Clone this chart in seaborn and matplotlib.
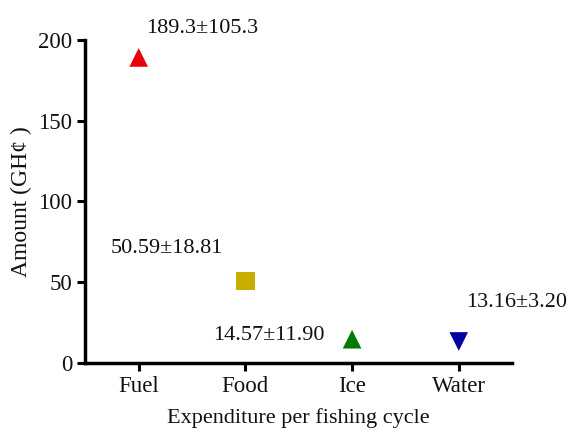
import matplotlib
matplotlib.use("Agg")
import matplotlib.pyplot as plt
import seaborn as sns
import pandas as pd

# expenditure per fishing cycle (mean ± sd)
items = ["Fuel", "Food", "Ice", "Water"]
means = [189.3, 50.59, 14.57, 13.16]
labels = ["189.3±105.3", "50.59±18.81", "14.57±11.90", "13.16±3.20"]
colors = ["#E8000B", "#C8AE00", "#007A00", "#0000A0"]
markers = ["^", "s", "^", "v"]
# label offsets from each point, in pixels
offsets = [(63, 29), (-79, 33), (-83, 4), (58, 39)]

df = pd.DataFrame({"item": items, "amount": means})

sns.set_theme(style="ticks")
plt.rcParams['font.family'] = ['Liberation Serif', 'DejaVu Serif']

fig, ax = plt.subplots(figsize=(5.69, 4.37), dpi=100)
sns.scatterplot(data=df, x="item", y="amount", hue="item", style="item",
                palette=colors, markers=markers, s=180, linewidth=0,
                legend=False, ax=ax)

for i, (m, lab) in enumerate(zip(means, labels)):
    dx, dy = offsets[i]
    ax.annotate(lab, (i, m), xytext=(dx * 0.72, dy * 0.72),
                textcoords="offset points", ha="center", va="center",
                fontsize=16, color="#111111", annotation_clip=False)

ax.set_xlim(-0.5, 3.5)
ax.set_ylim(0, 200)
ax.set_yticks([0, 50, 100, 150, 200])
ax.set_xlabel("Expenditure per fishing cycle", fontsize=16, labelpad=8,
              color="#111111")
ax.set_ylabel("Amount (GH¢ )", fontsize=17, labelpad=4, color="#111111")
ax.tick_params(axis="both", labelsize=16.5, width=2.2, length=6, color="black",
               labelcolor="#111111")
for s in ["left", "bottom"]:
    ax.spines[s].set_linewidth(2.5)
    ax.spines[s].set_color("black")
sns.despine(ax=ax)

fig.subplots_adjust(left=0.15, right=0.9, top=0.908, bottom=0.17)
fig.savefig("out.png", dpi=100)
